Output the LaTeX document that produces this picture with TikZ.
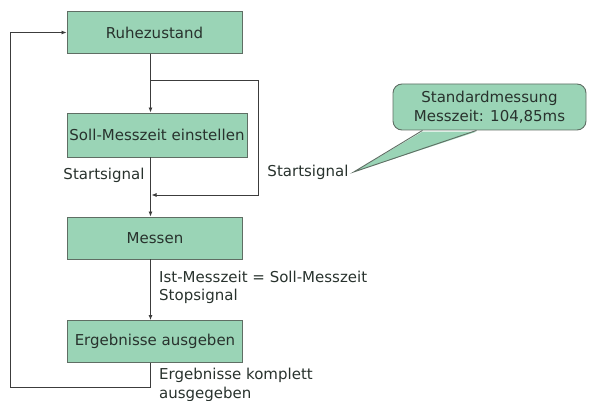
\documentclass[tikz,border=0pt]{standalone}
\usepackage{fontspec}
\setmainfont{DejaVu Sans}
\usetikzlibrary{arrows.meta}
\definecolor{boxfill}{RGB}{154,212,182}
\definecolor{boxline}{RGB}{95,110,100}
\definecolor{conn}{RGB}{60,60,60}
\definecolor{txt}{RGB}{40,50,45}
\begin{document}
\begin{tikzpicture}[x=1pt,y=-1pt,
  every node/.style={font=\fontsize{15}{18.5}\selectfont, text=txt},
  box/.style={draw=boxline, line width=0.9pt, fill=boxfill, minimum height=42pt, inner sep=0pt},
  lbl/.style={inner sep=0pt, align=left},
  conline/.style={draw=conn, line width=0.8pt},
  arr/.style={conline, -{Latex[length=5pt,width=4pt]}},
  callbox/.style={draw=boxline, line width=0.9pt, fill=boxfill, rounded corners=9pt, minimum width=193pt, minimum height=46pt, align=center, inner sep=0pt}]
\useasboundingbox (0,0) rectangle (589,401);

\node[box, minimum width=175pt] (r) at (154.5,32.5) {Ruhezustand};
\node[box, minimum width=180pt, minimum height=44pt] (s) at (157,135) {Soll-Messzeit einstellen};
\node[box, minimum width=175pt] (m) at (155,238) {Messen};
\node[box, minimum width=175pt] (e) at (155,341.5) {Ergebnisse ausgeben};

\coordinate (lx) at (150.5,0);
\coordinate (br) at (150.5,80);
\coordinate (bj) at (150.5,195);
\coordinate (rx) at (258.5,0);
\coordinate (lb) at (10,387);

% main flow
\draw[arr] (r.south -| lx) -- (s.north -| lx);
\draw[arr] (s.south -| lx) -- (m.north -| lx);
\draw[arr] (m.south -| lx) -- (e.north -| lx);
% bypass branch
\draw[arr] (br) -- (br -| rx) -- (bj -| rx) -- ([xshift=1pt]bj);
% return loop
\draw[arr] (e.south -| lx) -- (lb -| lx) -- (lb) -- (lb |- r.west) -- (r.west);

% labels
\node[lbl] (ss1) at (104,175) {Startsignal};
\node[lbl] (ss2) at (308,172) {Startsignal};
\node[lbl, anchor=west] (ist) at (159,287.5) {Ist-Messzeit = Soll-Messzeit\\Stopsignal};
\node[lbl, anchor=west] (erg) at (159,385) {Ergebnisse komplett\\ausgegeben};

% callout
\node[callbox] (cb) at (489.5,107) {Standardmessung\\Messzeit: 104,85ms};
\coordinate (tip) at ([xshift=5pt]ss2.east);
\coordinate (ta) at ([xshift=-67pt,yshift=-1.2pt]cb.south);
\coordinate (tb) at ([xshift=-13pt,yshift=-1.2pt]cb.south);
\fill[boxfill] (ta) -- (tip) -- (tb) -- cycle;
\draw[draw=boxline, line width=0.9pt, line join=miter] ([yshift=1.2pt]ta) -- (tip) -- ([yshift=1.2pt]tb);
\end{tikzpicture}
\end{document}
